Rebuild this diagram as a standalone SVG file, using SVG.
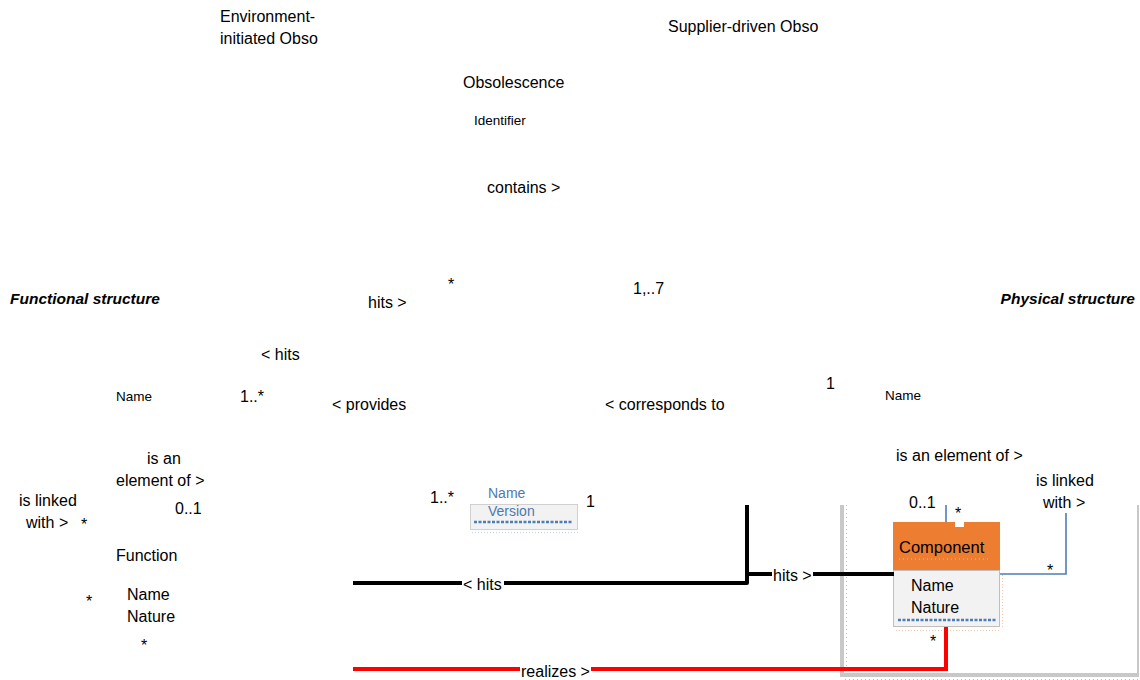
<svg xmlns="http://www.w3.org/2000/svg" width="1140" height="680" viewBox="0 0 1140 680">
  <style>
    text { font-family: "Liberation Sans", Arial, sans-serif; fill: #000; }
    .t { font-size: 16px; }
    .s { font-size: 13.5px; }
    .h { font-size: 15.5px; font-weight: bold; font-style: italic; }
    .attr { font-size: 14px; fill: #4E79B0; }
    .lbl { font-size: 16px; }
    .blk { stroke: #000; stroke-width: 4; fill: none; stroke-linejoin: round; }
    .red { stroke: #FF0000; stroke-width: 4; fill: none; }
    .blu { stroke: #4F7DB5; stroke-width: 1.6; fill: none; }
    .dash { stroke: #4F7DB5; stroke-width: 2.5; stroke-dasharray: 3 1.5; }
    .frame { stroke: #C8C8C8; fill: none; }
  </style>

  <!-- physical structure frame -->
  <g id="physical-frame">
    <line class="frame" x1="842" y1="505" x2="842" y2="676" stroke-width="4"/>
    <line x1="846.5" y1="505" x2="846.5" y2="672" stroke="#A9C4E2" stroke-width="1" stroke-dasharray="1 3"/>
    <line class="frame" x1="840" y1="675" x2="1139" y2="675" stroke-width="4"/>
    <line class="frame" x1="1138" y1="505" x2="1138" y2="677" stroke-width="2"/>
    <line x1="845" y1="679.5" x2="1138" y2="679.5" stroke="#A9C4E2" stroke-width="1" stroke-dasharray="1 3"/>
  </g>

  <!-- titles -->
  <g id="titles">
    <text class="h" x="10" y="304">Functional structure</text>
    <text class="h" x="1135" y="304" text-anchor="end">Physical structure</text>
  </g>

  <!-- obsolescence hierarchy labels -->
  <g id="env-obso">
    <text class="t" x="220" y="22">Environment-</text>
    <text class="t" x="220" y="44">initiated Obso</text>
  </g>
  <g id="supplier-obso">
    <text class="t" x="668" y="32">Supplier-driven Obso</text>
  </g>
  <g id="obsolescence">
    <text class="t" x="463" y="88">Obsolescence</text>
    <text class="s" x="474" y="125">Identifier</text>
  </g>

  <!-- version node -->
  <g id="version">
    <text class="attr" x="488" y="498">Name</text>
    <rect x="470.5" y="504.5" width="107" height="25" fill="#F2F2F2" stroke="#D0D0D0"/>
    <text class="attr" x="488" y="516">Version</text>
    <line class="dash" x1="474" y1="522" x2="573" y2="522"/>
    <line x1="472" y1="532.5" x2="578" y2="532.5" stroke="#BFD0E6" stroke-width="1" stroke-dasharray="1 2"/>
  </g>

  <!-- function node -->
  <g id="function">
    <text class="s" x="116" y="401">Name</text>
    <text class="t" x="116" y="561">Function</text>
    <text class="t" x="127" y="600">Name</text>
    <text class="t" x="127" y="622">Nature</text>
  </g>

  <!-- product node -->
  <g id="product">
    <text class="s" x="885" y="400">Name</text>
  </g>

  <!-- component node -->
  <g id="component">
    <rect x="893.5" y="570.5" width="106" height="56" fill="#F2F2F2" stroke="#BFBFBF"/>
    <rect x="893" y="522" width="107" height="48" fill="#ED7D31"/>
    <rect x="955" y="521" width="9" height="6" fill="#FFFFFF"/>
    <text x="899" y="553" style="font-size:16.5px">Component</text>
    <line x1="899" y1="559" x2="990" y2="559" stroke="#F6B98C" stroke-width="1" stroke-dasharray="1 3"/>
    <text class="t" x="911" y="591">Name</text>
    <text class="t" x="911" y="613">Nature</text>
    <line class="dash" x1="898" y1="620" x2="996" y2="620"/>
    <line x1="896" y1="630.5" x2="1001" y2="630.5" stroke="#F3C7A6" stroke-width="1" stroke-dasharray="1 2"/>
    <line x1="1002.5" y1="575" x2="1002.5" y2="628" stroke="#F3C7A6" stroke-width="1" stroke-dasharray="1 2"/>
  </g>

  <!-- connectors -->
  <g id="connectors">
    <!-- Version hits Function -->
    <polyline class="blk" points="353,583 747,583 747,505"/>
    <!-- Version hits Component -->
    <line class="blk" x1="747" y1="574" x2="894" y2="574"/>
    <!-- Component realizes Function -->
    <polyline class="red" points="353,669 946,669 946,627"/>
    <!-- Component is an element of Product -->
    <line class="blu" x1="946" y1="505" x2="946" y2="522"/>
    <!-- Component is linked with Component -->
    <polyline class="blu" points="1000,574 1066,574 1066,513"/>

    <!-- connector labels -->
    <rect x="462" y="575" width="42" height="18" fill="#fff"/>
    <text class="lbl" x="463" y="590">&lt; hits</text>
    <rect x="772" y="566" width="41" height="18" fill="#fff"/>
    <text class="lbl" x="773" y="581">hits &gt;</text>
    <rect x="520" y="661" width="71" height="18" fill="#fff"/>
    <text class="lbl" x="521" y="677">realizes &gt;</text>

    <text class="lbl" x="487" y="193">contains &gt;</text>
    <text class="lbl" x="368" y="308">hits &gt;</text>
    <text class="lbl" x="261" y="360">&lt; hits</text>
    <text class="lbl" x="332" y="410">&lt; provides</text>
    <text class="lbl" x="605" y="410">&lt; corresponds to</text>
    <text class="lbl" x="896" y="461">is an element of &gt;</text>
    <text class="lbl" x="1036" y="486">is linked</text>
    <text class="lbl" x="1043" y="508">with &gt;</text>
    <text class="lbl" x="147" y="464">is an</text>
    <text class="lbl" x="116" y="486">element of &gt;</text>
    <text class="lbl" x="19" y="506">is linked</text>
    <text class="lbl" x="26" y="528">with &gt;</text>

    <!-- multiplicities -->
    <text class="lbl" x="448" y="290">*</text>
    <text class="lbl" x="633" y="294">1,..7</text>
    <text class="lbl" x="240" y="402">1..*</text>
    <text class="lbl" x="826" y="389">1</text>
    <text class="lbl" x="430" y="503">1..*</text>
    <text class="lbl" x="586" y="507">1</text>
    <text class="lbl" x="175" y="514">0..1</text>
    <text class="lbl" x="81" y="530">*</text>
    <text class="lbl" x="86" y="607">*</text>
    <text class="lbl" x="141" y="651">*</text>
    <text class="lbl" x="909" y="508">0..1</text>
    <text class="lbl" x="955" y="519">*</text>
    <text class="lbl" x="1047" y="576">*</text>
    <text class="lbl" x="930" y="647">*</text>
  </g>
</svg>
